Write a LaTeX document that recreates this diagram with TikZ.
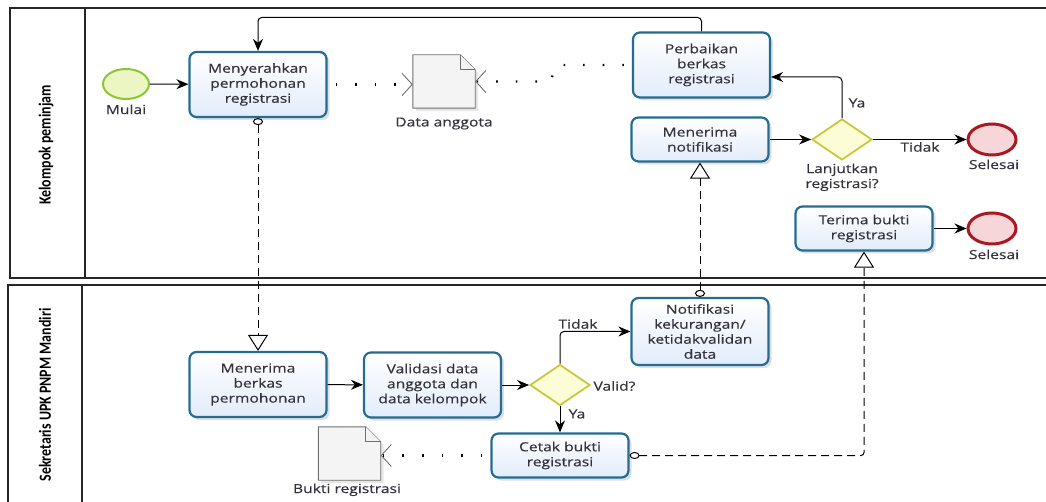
\documentclass[tikz,border=0pt]{standalone}
\usepackage{fontspec}
\setmainfont{Open Sans}[FakeStretch=1.25, FakeBold=0.4]
\newfontfamily\lanefont{Carlito}[FakeStretch=0.82]
\usetikzlibrary{arrows.meta,shapes.geometric,shadows}

\definecolor{taskline}{RGB}{36,108,146}
\definecolor{taskfill}{RGB}{226,236,250}
\definecolor{startline}{RGB}{140,198,50}
\definecolor{startfill}{RGB}{236,246,196}
\definecolor{endline}{RGB}{172,24,34}
\definecolor{endfill}{RGB}{246,214,216}
\definecolor{gateline}{RGB}{200,200,60}
\definecolor{gatefill}{RGB}{252,252,214}
\definecolor{labeltext}{RGB}{52,50,62}
\definecolor{docline}{RGB}{110,110,110}
\definecolor{docfill}{RGB}{244,244,244}

\tikzset{
  every node/.style={text=labeltext, font=\fontsize{12.5}{15}\selectfont},
  task/.style={rectangle, rounded corners=7pt, draw=taskline, line width=2.2pt,
    top color=white, bottom color=taskfill, minimum width=137pt, minimum height=44pt,
    inner sep=2pt, align=center,
    drop shadow={shadow xshift=3pt, shadow yshift=-3pt, opacity=0.25}},
  tasktall/.style={task, minimum height=65pt},
  startev/.style={ellipse, draw=startline, line width=2pt, fill=startfill,
    minimum width=46pt, minimum height=30pt, inner sep=0pt},
  endev/.style={ellipse, draw=endline, line width=3pt, fill=endfill,
    minimum width=48pt, minimum height=31pt, inner sep=0pt},
  gateway/.style={diamond, draw=gateline, line width=1.8pt, fill=gatefill,
    minimum width=60pt, minimum height=41pt, inner sep=0pt},
  docbox/.style={rectangle, minimum width=62pt, minimum height=53pt, inner sep=0pt},
  docshape/.style={draw=docline, line width=0.9pt, fill=docfill, line join=round},
  seqflow/.style={line width=1pt, rounded corners=4pt, -{Stealth[length=12pt,width=10pt]}},
  msgflow/.style={line width=1pt, dash pattern=on 8pt off 5pt,
    {Circle[open,length=7pt,width=10pt]}-{Triangle[open,length=16pt,width=20pt]}},
  msgflowh/.style={msgflow, {Circle[open,length=10pt,width=7pt]}-{Triangle[open,length=16pt,width=20pt]}},
  assoc/.style={line width=2.2pt, dash pattern=on 1.6pt off 18pt, dash phase=-8pt,
    -{Straight Barb[length=10pt,width=22pt,line width=0.9pt,color=docline]}},
  pool/.style={line width=1.3pt, draw=black!85},
  lanelabel/.style={rotate=90, text=black, font=\fontsize{17}{19}\lanefont\bfseries},
}

\begin{document}
\begin{tikzpicture}[x=1pt, y=-1pt] %Registrasi kelompok
  \useasboundingbox (0,0) rectangle (1046,502);

  % kolam
  \draw[pool] (1046,8) -- (10,8) -- (10,278) -- (1046,278);
  \draw[pool] (85,8) -- (85,278);
  \draw[pool] (1046,285) -- (8,285) -- (8,502);
  \draw[pool] (82,285) -- (82,502);
  \node[lanelabel] (lkp) at (46,145) {Kelompok peminjam};
  \node[lanelabel] (lsk) at (45,395) {Sekretaris UPK PNPM Mandiri};

  % Kelompok peminjam
  \node[startev] (mulai) at (126,84) {};
  \node[anchor=north] (lmulai) at (126,101) {Mulai};
  \node[tasktall] (serah) at (258,84.5) {Menyerahkan\\permohonan\\registrasi};
  \node[docbox] (dang) at (444,81.5) {};
  \node[anchor=north] (ldang) at (444,114) {Data anggota};
  \node[tasktall] (perb) at (701.5,65) {Perbaikan\\berkas\\registrasi};
  \node[task] (tnotif) at (700,139.5) {Menerima\\notifikasi};
  \node[gateway] (lanjut) at (842,139.5) {};
  \node[align=center, anchor=north] (llanjut) at (842,160) {Lanjutkan\\registrasi?};
  \node[endev] (sel1) at (992,139.5) {};
  \node[anchor=north] (lsel1) at (994,156) {Selesai};
  \node[task] (terima) at (864,228.5) {Terima bukti\\registrasi};
  \node[endev] (sel2) at (992,228.5) {};
  \node[anchor=north] (lsel2) at (994,246) {Selesai};

  % Sekretaris
  \node[tasktall] (berkas) at (258,384.5) {Menerima\\berkas\\permohonan};
  \node[tasktall] (valid) at (432.5,385) {Validasi data\\anggota dan\\data kelompok};
  \node[gateway] (gvalid) at (560,385) {};
  \node[anchor=west] (lgvalid) at (590,386) {Valid?};
  \node[tasktall, minimum height=67pt] (notif) at (700,331.5) {Notifikasi\\kekurangan/\\ketidakvalidan\\data};
  \node[task] (cetak) at (560,455.5) {Cetak bukti\\registrasi};
  \node[docbox] (bukti) at (349.5,453.5) {};
  \node[anchor=north] (lbukti) at (347,480) {Bukti registrasi};

  % dokumen
  \foreach \d in {dang,bukti}{
    \filldraw[docshape, drop shadow={shadow xshift=3pt, shadow yshift=-3pt, opacity=0.2}]
      (\d.south west) -- (\d.north west) -- ([xshift=-15pt]\d.north east)
      -- ([yshift=-15pt]\d.north east) -- (\d.south east) -- cycle;
    \draw[docshape] ([xshift=-15pt]\d.north east) -- ([xshift=-15pt,yshift=-15pt]\d.north east)
      -- ([yshift=-15pt]\d.north east);
  }

  % alur
  \draw[seqflow] (mulai) -- (serah);
  \draw[seqflow] (perb.north) -- ++(0,-14) -| (serah.north);
  \draw[seqflow] (tnotif) -- (lanjut);
  \draw[seqflow] (lanjut.north) |- (perb.east |- 0,77);
  \node (lya1) at (857,103) {Ya};
  \draw[seqflow] (lanjut) -- (sel1);
  \node (ltdk1) at (920,147) {Tidak};
  \draw[seqflow] (terima) -- (sel2);
  \draw[seqflow] (berkas) -- (valid);
  \draw[seqflow] (valid) -- (gvalid);
  \draw[seqflow] (gvalid.north) |- (notif.west);
  \node (ltdk2) at (578,324) {Tidak};
  \draw[seqflow] (gvalid) -- (cetak);
  \node (lya2) at (577,414) {Ya};

  % pesan
  \draw[msgflow] (serah.south) -- (berkas.north);
  \draw[msgflow] (notif.north) -- (tnotif.south);
  \draw[msgflowh, rounded corners=3pt] (cetak.east) -| (terima.south);

  % asosiasi
  \draw[assoc] (serah.east) -- (serah.east -| dang.west);
  \draw[assoc] (perb.west) -- ++(-75,0) -- ([xshift=75pt]dang.east) -- (dang.east);
  \draw[assoc] (cetak.west) -- (cetak.west -| bukti.east);
\end{tikzpicture}
\end{document}
